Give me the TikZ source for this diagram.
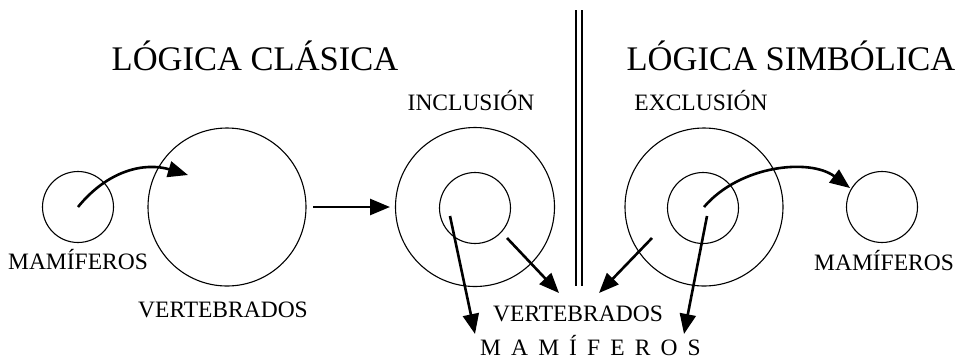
\documentclass[tikz,border=0pt]{standalone}
\usepackage{fontspec}
\setmainfont{Liberation Serif}
\usetikzlibrary{arrows.meta}
\begin{document}
\begin{tikzpicture}[x=1pt,y=-1pt,
  ring/.style={draw,circle,line width=1.1pt,inner sep=0pt},
  conn/.style={line width=2.6pt,-{Triangle[length=20pt,width=16pt]}},
  title/.style={font=\fontsize{34.5}{40}\selectfont,anchor=base,inner sep=0pt},
  lbl/.style={font=\fontsize{23.5}{28}\selectfont,anchor=base,inner sep=0pt}]
\useasboundingbox (0,0) rectangle (963,360);
\fill[white] (0,0) rectangle (963,360);
% titles
\node[title] (t1) at (255,70) {LÓGICA CLÁSICA};
\node[title] (t2) at (791,70) {LÓGICA SIMBÓLICA};
% divider
\draw[line width=1.1pt] (576,10) -- (576,286);
\draw[line width=1.1pt] (582,10) -- (582,286);
% circles
\node[ring,minimum size=71pt] (cm) at (78,207) {};
\node[ring,minimum size=158pt] (cv) at (227,207) {};
\node[ring,minimum size=159pt] (iv) at (475,207) {};
\node[ring,minimum size=71pt] (im) at (475,208) {};
\node[ring,minimum size=158pt] (ev) at (704,207) {};
\node[ring,minimum size=71pt] (em) at (703,208) {};
\node[ring,minimum size=71pt] (rm) at (882,207) {};
% labels
\node[lbl] (l1) at (78,269) {MAMÍFEROS};
\node[lbl] (l2) at (223,317) {VERTEBRADOS};
\node[lbl] (l3) at (471,110) {INCLUSIÓN};
\node[lbl] (l4) at (701,110) {EXCLUSIÓN};
\node[lbl] (l5) at (884,270) {MAMÍFEROS};
\node[lbl] (l6) at (578,321) {VERTEBRADOS};
\node[lbl,anchor=base west] (l7) at (480,355) {\addfontfeature{LetterSpace=43}MAMÍFEROS};
% arrow endpoints
\coordinate (a1s) at (78,207);
\coordinate (a1e) at (188,175);
\coordinate (a2s) at (313,207);
\coordinate (a2e) at (390,207);
\coordinate (a3s) at (450,216);
\coordinate (a3e) at (475,334);
\coordinate (a4s) at (507,238);
\coordinate (a4e) at (559,293);
\coordinate (a5s) at (652,238);
\coordinate (a5e) at (599,293);
\coordinate (a6s) at (707,216);
\coordinate (a6e) at (684,334);
\coordinate (a7s) at (704,207);
\coordinate (a7e) at (850,188);
% arrows
\draw[conn] (a1s) .. controls (108,170) and (145,162) .. (a1e);
\draw[conn] (a2s) -- (a2e);
\draw[conn] (a3s) -- (a3e);
\draw[conn] (a4s) -- (a4e);
\draw[conn] (a5s) -- (a5e);
\draw[conn] (a6s) -- (a6e);
\draw[conn] (a7s) .. controls (740,165) and (810,158) .. (a7e);
\end{tikzpicture}
\end{document}
